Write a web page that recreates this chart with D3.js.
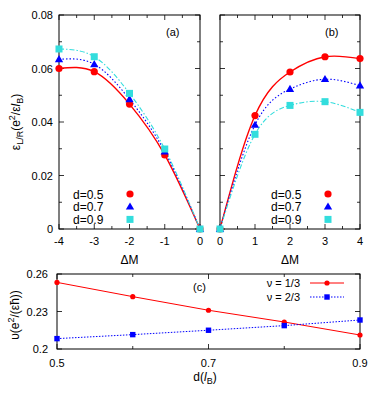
<!DOCTYPE html>
<html>
<head>
<meta charset="utf-8">
<script src="https://cdn.jsdelivr.net/npm/d3@7"></script>
<style>
  body { margin: 0; background: #fff; }
  svg { font-family: "Liberation Sans", Arial, sans-serif; }
</style>
</head>
<body>
<div id="chart"></div>
<script>
// Panel (a): negative Delta M
var dmA = [ -4, -3, -2, -1, 0 ];
var epsA05 = [ 0.0600, 0.0588, 0.0467, 0.0277, 0 ];
var epsA07 = [ 0.0634, 0.0616, 0.0485, 0.0289, 0 ];
var epsA09 = [ 0.0673, 0.0644, 0.0507, 0.0299, 0 ];

// Panel (b): positive Delta M
var dmB = [ 0, 1, 2, 3, 4 ];
var epsB05 = [ 0, 0.0424, 0.0587, 0.0644, 0.0637 ];
var epsB07 = [ 0, 0.0389, 0.0523, 0.0560, 0.0536 ];
var epsB09 = [ 0, 0.0354, 0.0462, 0.0476, 0.0436 ];

var dLabels = [ "d=0.5", "d=0.7", "d=0.9" ];

// Panel (c): velocity vs layer distance
var dVals = [ 0.5, 0.6, 0.7, 0.8, 0.9 ];
var v13 = [ 0.2533, 0.2419, 0.2310, 0.2216, 0.2112 ];
var v23 = [ 0.2083, 0.2115, 0.2150, 0.2187, 0.2232 ];
var nuLabels = [ "\u03bd = 1/3", "\u03bd = 2/3" ];

var yTicksAB = [ 0, 0.02, 0.04, 0.06, 0.08 ];
var yTicksC = [ 0.2, 0.23, 0.26 ];
var xTicksC = [ 0.5, 0.7, 0.9 ];

var red = "#ff0000", blue = "#0000ff", cyan = "#33dddd";

var svg = d3.select( "#chart" ).append( "svg" )
  .attr( "width", 382 ).attr( "height", 401 );

// styles for the three d series
var series = [
  { color: red, dash: null, shape: "circle", s: 3.6 },
  { color: blue, dash: "1.5,2", shape: "triangle", s: 3.4 },
  { color: cyan, dash: "5,2,1.5,2", shape: "square", s: 3.5 }
];

function marker( g, shape, color, x, y, s ) {
  if ( shape === "circle" ) {
    g.append( "circle" ).attr( "cx", x ).attr( "cy", y ).attr( "r", s ).attr( "fill", color );
  } else if ( shape === "triangle" ) {
    g.append( "path" )
      .attr( "d", d3.symbol( d3.symbolTriangle, s * s * 2.6 )() )
      .attr( "transform", "translate(" + x + "," + ( y + 0.5 ) + ")" )
      .attr( "fill", color );
  } else {
    g.append( "rect" ).attr( "x", x - s ).attr( "y", y - s )
      .attr( "width", 2 * s ).attr( "height", 2 * s ).attr( "fill", color );
  }
}

// frame with inward ticks on all four sides
function frame( x, y, xMajor, xMinor, yMajor, yMinor ) {
  var g = svg.append( "g" );
  var x0 = x.range()[ 0 ], x1 = x.range()[ 1 ];
  var y0 = y.range()[ 0 ], y1 = y.range()[ 1 ];
  var ticks = [];
  xMajor.forEach( v => ticks.push( [ x( v ), y0, 0, -5 ], [ x( v ), y1, 0, 5 ] ) );
  xMinor.forEach( v => ticks.push( [ x( v ), y0, 0, -3 ], [ x( v ), y1, 0, 3 ] ) );
  yMajor.forEach( v => ticks.push( [ x0, y( v ), 5, 0 ], [ x1, y( v ), -5, 0 ] ) );
  yMinor.forEach( v => ticks.push( [ x0, y( v ), 3, 0 ], [ x1, y( v ), -3, 0 ] ) );
  g.selectAll( "line" ).data( ticks ).enter().append( "line" )
    .attr( "x1", d => d[ 0 ] ).attr( "y1", d => d[ 1 ] )
    .attr( "x2", d => d[ 0 ] + d[ 2 ] ).attr( "y2", d => d[ 1 ] + d[ 3 ] )
    .attr( "stroke", "#000" ).attr( "stroke-width", 0.8 );
  g.append( "rect" ).attr( "x", x0 ).attr( "y", y1 )
    .attr( "width", x1 - x0 ).attr( "height", y0 - y1 )
    .attr( "fill", "none" ).attr( "stroke", "#000" ).attr( "stroke-width", 1 );
}

function tickLabels( x, y, xt, yt, xfmt, yfmt, showY, xOff, yOff ) {
  var g = svg.append( "g" ).attr( "font-size", 11 );
  g.selectAll( ".xl" ).data( xt ).enter().append( "text" )
    .attr( "x", d => x( d ) ).attr( "y", y.range()[ 0 ] + xOff )
    .attr( "text-anchor", "middle" ).text( xfmt );
  if ( showY ) {
    g.selectAll( ".yl" ).data( yt ).enter().append( "text" )
      .attr( "x", x.range()[ 0 ] - yOff ).attr( "y", d => y( d ) + 4 )
      .attr( "text-anchor", "end" ).text( yfmt );
  }
}

var yFmtAB = d => d === 0 ? "0" : d3.format( ".2f" )( d );
var yAB = d3.scaleLinear().domain( [ 0, 0.08 ] ).range( [ 229, 15 ] );
var xA = d3.scaleLinear().domain( [ -4, 0 ] ).range( [ 59, 200 ] );
var xB = d3.scaleLinear().domain( [ 0, 4 ] ).range( [ 220, 360 ] );

function energyPanel( x, xs, ys, tag, tagX, legX ) {
  frame( x, yAB, xs, d3.range( x.domain()[ 0 ] + 0.5, x.domain()[ 1 ], 1 ),
    yTicksAB, [ 0.01, 0.03, 0.05, 0.07 ] );
  var line = d3.line().x( ( d, i ) => x( xs[ i ] ) ).y( d => yAB( d ) ).curve( d3.curveNatural );
  ys.forEach( ( vals, k ) => {
    svg.append( "path" ).attr( "d", line( vals ) )
      .attr( "fill", "none" ).attr( "stroke", series[ k ].color )
      .attr( "stroke-width", k === 0 ? 1.4 : 1.1 )
      .attr( "stroke-dasharray", series[ k ].dash );
  } );
  ys.forEach( ( vals, k ) => {
    var g = svg.append( "g" );
    vals.forEach( ( v, i ) => marker( g, series[ k ].shape, series[ k ].color, x( xs[ i ] ), yAB( v ), series[ k ].s ) );
  } );
  svg.append( "text" ).attr( "x", tagX ).attr( "y", 36 ).attr( "font-size", 11 ).text( tag );
  dLabels.forEach( ( t, k ) => {
    var yy = 194 + k * 12.7;
    svg.append( "text" ).attr( "x", legX ).attr( "y", yy + 4.5 ).attr( "font-size", 12 ).text( t );
    marker( svg.append( "g" ), series[ k ].shape, series[ k ].color, legX + 57, yy, series[ k ].s );
  } );
  svg.append( "text" ).attr( "x", ( x.range()[ 0 ] + x.range()[ 1 ] ) / 2 ).attr( "y", 264 )
    .attr( "text-anchor", "middle" ).attr( "font-size", 12 ).text( "\u0394M" );
}

energyPanel( xA, dmA, [ epsA05, epsA07, epsA09 ], "(a)", 166, 73 );
energyPanel( xB, dmB, [ epsB05, epsB07, epsB09 ], "(b)", 325, 271 );
tickLabels( xA, yAB, dmA, yTicksAB, d => d, yFmtAB, true, 16, 6 );
tickLabels( xB, yAB, dmB, yTicksAB, d => d, yFmtAB, false, 16, 6 );

// y label panels (a)/(b)
var yl = svg.append( "text" ).attr( "transform", "translate(20,122) rotate(-90)" )
  .attr( "text-anchor", "middle" ).attr( "font-size", 12 );
yl.append( "tspan" ).text( "\u03b5" );
yl.append( "tspan" ).attr( "font-size", 9 ).attr( "dy", 3 ).text( "L/R" );
yl.append( "tspan" ).attr( "dy", -3 ).text( "(e" );
yl.append( "tspan" ).attr( "font-size", 9 ).attr( "dy", -5 ).text( "2" );
yl.append( "tspan" ).attr( "dy", 5 ).text( "/\u03b5" );
yl.append( "tspan" ).attr( "font-style", "italic" ).text( "l" );
yl.append( "tspan" ).attr( "font-size", 9 ).attr( "dy", 3 ).text( "B" );
yl.append( "tspan" ).attr( "dy", -3 ).text( ")" );

// Panel (c)
var xC = d3.scaleLinear().domain( [ 0.5, 0.9 ] ).range( [ 57, 360 ] );
var yC = d3.scaleLinear().domain( [ 0.2, 0.26 ] ).range( [ 349, 274 ] );
frame( xC, yC, xTicksC, [ 0.6, 0.8 ], yTicksC, [] );
tickLabels( xC, yC, xTicksC, yTicksC, d3.format( ".1f" ), d => d === 0.2 ? "0.2" : d3.format( ".2f" )( d ), true, 18, 9 );

var cSeries = [
  { vals: v13, color: red, dash: null, shape: "circle", s: 2.6 },
  { vals: v23, color: blue, dash: "1.5,1.5", shape: "square", s: 2.7 }
];
var lineC = d3.line().x( ( d, i ) => xC( dVals[ i ] ) ).y( d => yC( d ) );
cSeries.forEach( ( s, k ) => {
  svg.append( "path" ).attr( "d", lineC( s.vals ) ).attr( "fill", "none" )
    .attr( "stroke", s.color ).attr( "stroke-width", 1 ).attr( "stroke-dasharray", s.dash );
  var g = svg.append( "g" );
  s.vals.forEach( ( v, i ) => marker( g, s.shape, s.color, xC( dVals[ i ] ), yC( v ), s.s ) );
  var yy = 283 + k * 14;
  svg.append( "text" ).attr( "x", 300 ).attr( "y", yy + 4 ).attr( "text-anchor", "end" )
    .attr( "font-size", 11 ).text( nuLabels[ k ] );
  svg.append( "line" ).attr( "x1", 310 ).attr( "x2", 344 ).attr( "y1", yy ).attr( "y2", yy )
    .attr( "stroke", s.color ).attr( "stroke-width", 1 ).attr( "stroke-dasharray", s.dash );
  marker( svg.append( "g" ), s.shape, s.color, 327, yy, s.s );
} );
svg.append( "text" ).attr( "x", 193 ).attr( "y", 291 ).attr( "font-size", 11 ).text( "(c)" );

var ylc = svg.append( "text" ).attr( "transform", "translate(19,315) rotate(-90)" )
  .attr( "text-anchor", "middle" ).attr( "font-size", 12 );
ylc.append( "tspan" ).text( "\u03c5(e" );
ylc.append( "tspan" ).attr( "font-size", 9 ).attr( "dy", -5 ).text( "2" );
ylc.append( "tspan" ).attr( "dy", 5 ).text( "/(\u03b5\u0127))" );

var xlc = svg.append( "text" ).attr( "x", 205 ).attr( "y", 381 )
  .attr( "text-anchor", "middle" ).attr( "font-size", 12 );
xlc.append( "tspan" ).text( "d(" );
xlc.append( "tspan" ).attr( "font-style", "italic" ).text( "l" );
xlc.append( "tspan" ).attr( "font-size", 9 ).attr( "dy", 3 ).text( "B" );
xlc.append( "tspan" ).attr( "dy", -3 ).text( ")" );
</script>
</body>
</html>
